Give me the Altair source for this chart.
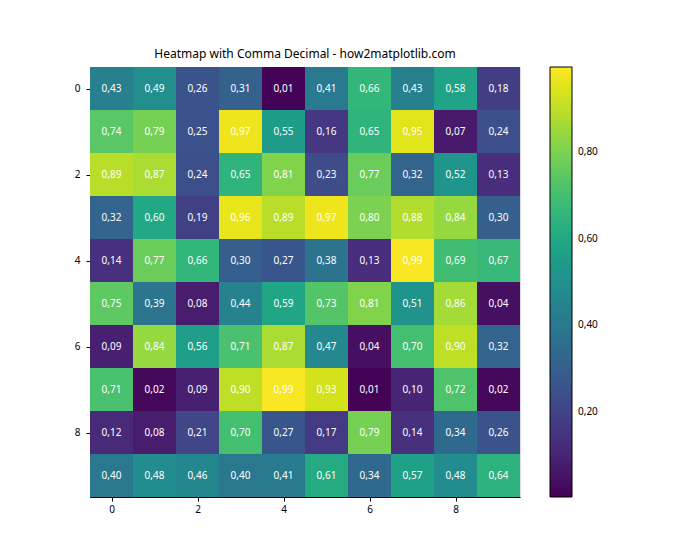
import altair as alt
import pandas as pd

rows = list(range(10))
cols = list(range(10))
values = [
    [0.43, 0.49, 0.26, 0.31, 0.01, 0.41, 0.66, 0.43, 0.58, 0.18],
    [0.74, 0.79, 0.25, 0.97, 0.55, 0.16, 0.65, 0.95, 0.07, 0.24],
    [0.89, 0.87, 0.24, 0.65, 0.81, 0.23, 0.77, 0.32, 0.52, 0.13],
    [0.32, 0.60, 0.19, 0.96, 0.89, 0.97, 0.80, 0.88, 0.84, 0.30],
    [0.14, 0.77, 0.66, 0.30, 0.27, 0.38, 0.13, 0.99, 0.69, 0.67],
    [0.75, 0.39, 0.08, 0.44, 0.59, 0.73, 0.81, 0.51, 0.86, 0.04],
    [0.09, 0.84, 0.56, 0.71, 0.87, 0.47, 0.04, 0.70, 0.90, 0.32],
    [0.71, 0.02, 0.09, 0.90, 0.99, 0.93, 0.01, 0.10, 0.72, 0.02],
    [0.12, 0.08, 0.21, 0.70, 0.27, 0.17, 0.79, 0.14, 0.34, 0.26],
    [0.40, 0.48, 0.46, 0.40, 0.41, 0.61, 0.34, 0.57, 0.48, 0.64],
]
tick_values = [0, 2, 4, 6, 8]
legend_values = [0.2, 0.4, 0.6, 0.8]
title_text = "Heatmap with Comma Decimal - how2matplotlib.com"

records = []
for r in rows:
    for c in cols:
        records.append({"row": r, "col": c, "value": values[r][c]})
df = pd.DataFrame(records)

FONT = "Noto Sans"

base = alt.Chart(df).transform_calculate(
    x0="datum.col - 0.5", x1="datum.col + 0.5",
    y0="datum.row - 0.5", y1="datum.row + 0.5",
    label="replace(format(datum.value, '.2f'), '.', ',')",
)

xscale = alt.Scale(domain=[-0.5, 9.5], nice=False, zero=False)
yscale = alt.Scale(domain=[9.5, -0.5], nice=False, zero=False)
cscale = alt.Scale(scheme="viridis", domain=[0.005, 0.995], nice=False)

rect = base.mark_rect().encode(
    x=alt.X("x0:Q", scale=xscale, title=None,
            axis=alt.Axis(values=tick_values, grid=False, tickColor="black", domainColor="black",
                          labelColor="black", labelFont=FONT, labelFontSize=10, tickSize=4,
                          labelPadding=3, format="d")),
    x2="x1:Q",
    y=alt.Y("y0:Q", scale=yscale, title=None,
            axis=alt.Axis(values=tick_values, grid=False, tickColor="black", domainColor="black",
                          labelColor="black", labelFont=FONT, labelFontSize=10, tickSize=4,
                          labelPadding=6, format="d")),
    y2="y1:Q",
    color=alt.Color("value:Q", scale=cscale,
                    legend=alt.Legend(title=None, orient="none", legendX=460, legendY=0,
                                      type="gradient", direction="vertical",
                                      gradientLength=430, gradientThickness=22,
                                      gradientStrokeColor="black", gradientStrokeWidth=1,
                                      values=legend_values,
                                      labelExpr="replace(format(datum.value, '.2f'), '.', ',')",
                                      labelFont=FONT, labelFontSize=10, labelColor="black",
                                      labelOffset=6)),
)

text = base.mark_text(color="white", font=FONT, fontSize=10).encode(
    x=alt.X("col:Q", scale=xscale),
    y=alt.Y("row:Q", scale=yscale),
    text="label:N",
)

chart = (rect + text).properties(
    width=430, height=430,
    title=alt.TitleParams(title_text, font=FONT, fontSize=12, fontWeight="normal",
                          color="black", offset=6),
    autosize=alt.AutoSizeParams(type="none"),
    padding={"left": 82, "top": 59, "right": 172, "bottom": 55},
).configure_view(stroke="black", strokeWidth=1).configure(background="white")

chart.save("out.html", embed_options={"renderer": "svg", "actions": False})
